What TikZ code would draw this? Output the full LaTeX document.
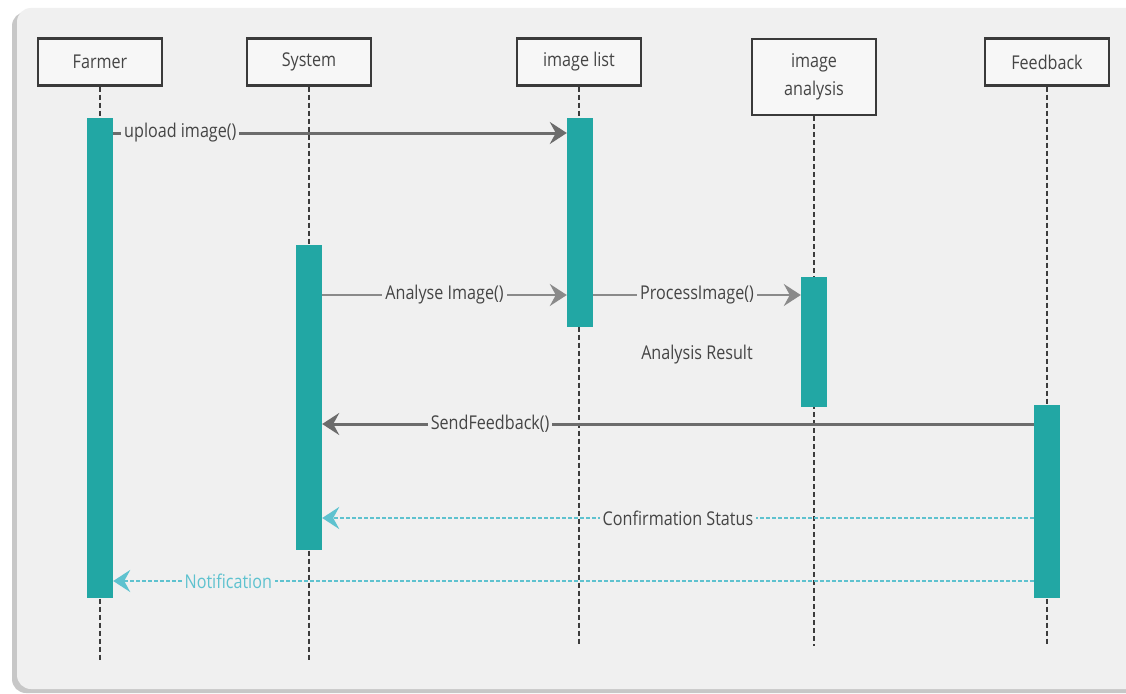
\documentclass[tikz,border=0pt]{standalone}
\usepackage{fontspec}
\setmainfont{Open Sans}[FakeStretch=0.85]
\usetikzlibrary{arrows.meta,calc}
\definecolor{bgc}{HTML}{F0F0F0}
\definecolor{boxfill}{HTML}{F7F7F7}
\definecolor{boxline}{HTML}{3A3A3A}
\definecolor{teal}{HTML}{22A7A4}
\definecolor{life}{HTML}{3C3C3C}
\definecolor{arrdark}{HTML}{6C6C6C}
\definecolor{arrlight}{HTML}{8A8A8A}
\definecolor{retc}{HTML}{5EC2CF}
\definecolor{txt}{HTML}{454545}
\tikzset{
  actor/.style={draw=boxline, line width=2.4pt, fill=boxfill, minimum width=124pt, minimum height=47pt, font=\fontsize{19}{28}\selectfont, text=txt, align=center, inner sep=0pt},
  lifeline/.style={draw=life, line width=2pt, dash pattern=on 5pt off 3pt},
  bar/.style={fill=teal, draw=none, minimum width=26pt, inner sep=0pt},
  msgdark/.style={draw=arrdark, line width=3pt, -{Stealth[length=17pt,width=22pt,inset=6pt]}},
  msglight/.style={draw=arrlight, line width=2.4pt, -{Stealth[length=17pt,width=22pt,inset=6pt]}},
  ret/.style={draw=retc, line width=2.4pt, dash pattern=on 4pt off 2pt, -{Stealth[length=17pt,width=22pt,inset=6pt]}},
  lbl/.style={fill=bgc, inner xsep=3pt, inner ysep=1pt, text=txt, font=\fontsize{19}{21}\selectfont},
}
\begin{document}
\begin{tikzpicture}[x=1pt,y=-1pt]
\useasboundingbox (0,0) rectangle (1126,693);
\fill[white] (0,0) rectangle (1126,693);
% panel with shadow
\fill[black!22, rounded corners=14pt] (12,12) rectangle (1140,693);
\fill[bgc, rounded corners=14pt] (17,8) rectangle (1140,689);

% actors
\node[actor] (farmer) at (100,62) {Farmer};
\node[actor] (system) at (309,62) {System};
\node[actor] (list) at (579,62) {image list};
\node[actor, minimum height=76pt] (analysis) at (814,77) {image\\analysis};
\node[actor] (feedback) at (1047,62) {Feedback};

% lifeline ends
\coordinate (farmerEnd) at (100,662);
\coordinate (systemEnd) at (309,662);
\coordinate (listEnd) at (579,645);
\coordinate (analysisEnd) at (814,646);
\coordinate (feedbackEnd) at (1047,646);

\draw[lifeline] (farmer.south) -- (farmerEnd);
\draw[lifeline] (system.south) -- (systemEnd);
\draw[lifeline] (list.south) -- (listEnd);
\draw[lifeline] (analysis.south) -- (analysisEnd);
\draw[lifeline] (feedback.south) -- (feedbackEnd);

% activation bars
\node[bar, minimum height=480pt] (fbar) at (100,358) {};
\node[bar, minimum height=305pt] (sbar) at (309,397.5) {};
\node[bar, minimum height=209pt] (lbar) at (580,222.5) {};
\node[bar, minimum height=130pt] (abar) at (814,342) {};
\node[bar, minimum height=193pt] (kbar) at (1047,501.5) {};

% messages
\draw[msgdark] (fbar.east |- 0,133) -- (lbar.west |- 0,133)
  node[lbl, pos=0.148] {upload image()};
\draw[msglight] (sbar.east |- 0,295) -- (lbar.west |- 0,295)
  node[lbl, pos=0.5] {Analyse Image()};
\draw[msglight] (lbar.east |- 0,295) -- (abar.west |- 0,295)
  node[lbl, pos=0.5] {ProcessImage()};
\node[text=txt, font=\fontsize{19}{21}\selectfont] (result) at (697,355) {Analysis Result};
\draw[msgdark] (kbar.west |- 0,424) -- (sbar.east |- 0,424)
  node[lbl, pos=0.764] {SendFeedback()};
\draw[ret] (kbar.west |- 0,518) -- (sbar.east |- 0,518)
  node[lbl, pos=0.5] {Confirmation Status};
\draw[ret] (kbar.west |- 0,581) -- (fbar.east |- 0,581)
  node[lbl, pos=0.875, text=retc] {Notification};
\end{tikzpicture}
\end{document}
